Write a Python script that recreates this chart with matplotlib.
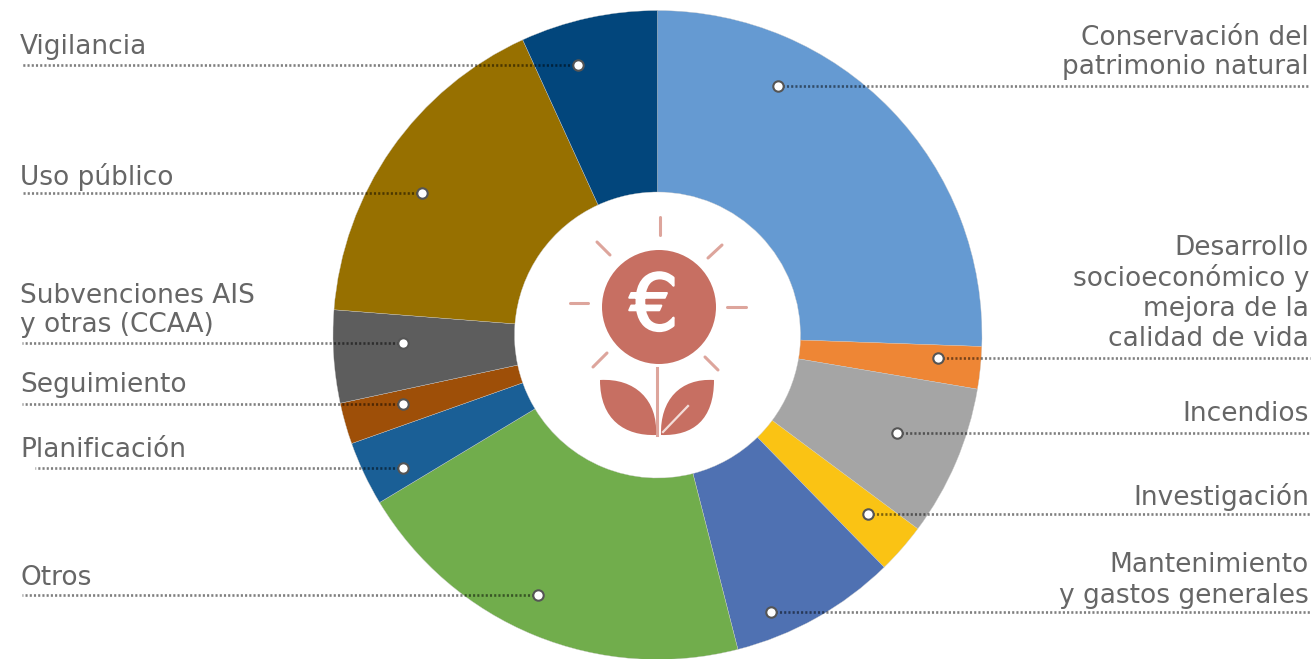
import matplotlib
matplotlib.use('Agg')
import matplotlib.pyplot as plt
import matplotlib.patheffects as pe
from matplotlib.patches import Circle, PathPatch
from matplotlib.path import Path

W, H = 1316, 659

# Data
# ____________________________________________________________
categories = ['Conservación del\npatrimonio natural',
              'Desarrollo\nsocioeconómico y\nmejora de la\ncalidad de vida',
              'Incendios', 'Investigación',
              'Mantenimiento\ny gastos generales',
              'Otros', 'Planificación', 'Seguimiento',
              'Subvenciones AIS\ny otras (CCAA)',
              'Uso público', 'Vigilancia']
values = [25.5, 2.1, 7.5, 2.5, 8.3, 20.3, 3.2, 2.05, 4.6, 16.9, 6.8]
colors = ['#659AD2', '#EE8635', '#A5A5A5', '#FAC314', '#4F71B2', '#71AD4C',
          '#1A5F96', '#9E4F08', '#5D5D5D', '#977000', '#02467C']

# Layout, in picture pixels (y going down)
# ____________________________________________________________
# dot x, line y, far end of line x, text x, text top line y, line step
leaders = [(778, 86, 1310, 1309, 38, 29.5),
           (938, 358, 1310, 1309, 248, 30.3),
           (897, 433, 1310, 1309, 414, 30),
           (868, 514, 1310, 1309, 497, 30),
           (771, 612, 1310, 1309, 565, 31),
           (538, 595, 22, 20, 578, 30),
           (403, 468, 35, 20, 450, 30),
           (403, 404, 22, 20, 385, 30),
           (403, 343, 22, 20, 296, 29),
           (422, 193, 22, 20, 177, 30),
           (578, 65, 22, 20, 47, 30)]

CX, CY, R_OUT, R_IN = 657.5, 335, 324.5, 143
C_TEXT = '#666666'
C_ICON = '#C76F62'
C_ICON_LIGHT = '#DDA59C'


def fy(y):
    return H - y


fig = plt.figure(figsize=(W / 100, H / 100), dpi=100, facecolor='white')
ax = fig.add_axes([0, 0, 1, 1])

ax.pie(values, colors=colors, startangle=90, counterclock=False,
       center=(CX, fy(CY)), radius=R_OUT,
       wedgeprops=dict(width=R_OUT - R_IN, edgecolor='#CCCCCC', linewidth=0.25))
ax.set_xlim(0, W)
ax.set_ylim(0, H)
ax.set_aspect('auto')
ax.axis('off')

# Leader lines and labels
for label, (dot_x, line_y, end_x, text_x, text_y, step) in zip(categories, leaders):
    ax.plot([dot_x, end_x], [fy(line_y), fy(line_y)], color='black', alpha=0.5,
            linewidth=1.9, linestyle=(0, (0.8, 0.8)), zorder=3)
    ax.plot(dot_x, fy(line_y), 'o', markersize=7.5, markerfacecolor='white',
            markeredgecolor='#555555', markeredgewidth=1.5, zorder=4)
    ha = 'right' if text_x > CX else 'left'
    for i, line in enumerate(label.split('\n')):
        ax.text(text_x, fy(text_y + i * step), line, ha=ha, va='center',
                fontsize=19, color=C_TEXT, family='DejaVu Sans')

# Centre icon
# ____________________________________________________________
ax.add_patch(Circle((659, fy(307)), 57, facecolor=C_ICON, edgecolor='none', zorder=5))
ax.text(654, fy(308), '€', fontsize=56, color='white',
        ha='center', va='center', family='DejaVu Sans', zorder=6,
        path_effects=[pe.withStroke(linewidth=1.5, foreground='white')])

rays = [((659.5, 217), (659.5, 235)), ((708, 258), (722, 245)),
        ((727, 307), (746, 307)), ((705, 357), (718, 370)),
        ((593, 367), (607, 353)), ((570, 303), (588, 303)),
        ((597, 242), (610, 255))]
for (x0, y0), (x1, y1) in rays:
    ax.plot([x0, x1], [fy(y0), fy(y1)], color=C_ICON_LIGHT, linewidth=2.2,
            solid_capstyle='round', zorder=5)

ax.plot([657, 657], [fy(368), fy(435)], color=C_ICON_LIGHT, linewidth=2.2, zorder=5)

curve_codes = [Path.MOVETO, Path.CURVE4, Path.CURVE4, Path.CURVE4,
               Path.CURVE4, Path.CURVE4, Path.CURVE4, Path.CLOSEPOLY]
left_leaf = [(600, 380), (635, 378), (658, 400), (656, 435),
             (625, 436), (600, 420), (600, 380), (600, 380)]
right_leaf = [(714, 380), (680, 378), (660, 400), (661, 435),
              (693, 436), (714, 420), (714, 380), (714, 380)]
for leaf in (left_leaf, right_leaf):
    verts = [(x, fy(y)) for x, y in leaf]
    ax.add_patch(PathPatch(Path(verts, curve_codes), facecolor=C_ICON,
                           edgecolor='none', zorder=5))
ax.plot([663, 688], [fy(432), fy(406)], color='#F3DDD9', linewidth=1.6, zorder=6)

fig.savefig('out.png', dpi=100, facecolor='white')
